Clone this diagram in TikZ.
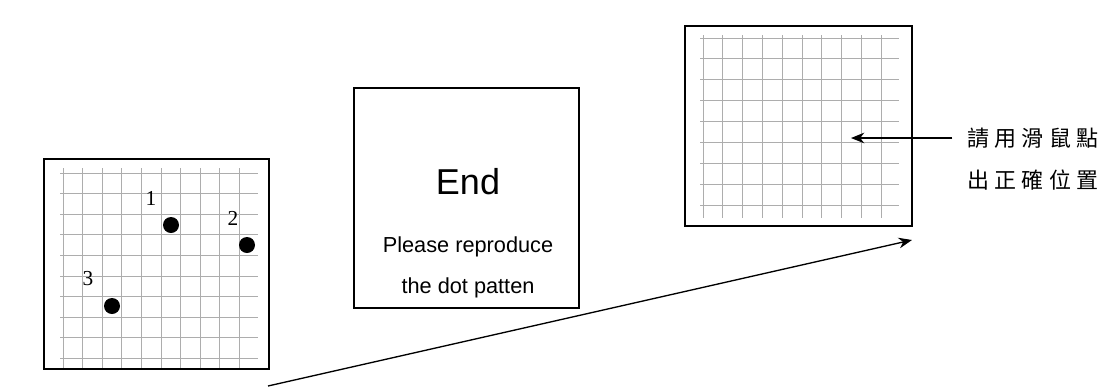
\documentclass[tikz,border=0pt]{standalone}
\usepackage{fontspec}
\setmainfont{Liberation Serif}
\newfontfamily\arialf{Liberation Sans}
\newfontfamily\cjkf[LetterSpace=24]{Noto Sans CJK TC}
\usetikzlibrary{arrows.meta}
\tikzset{
  panel/.style={draw=black, line width=1.4pt, fill=white, inner sep=0pt},
  gridline/.style={draw=black!32, line width=0.65pt},
  dotmark/.style={circle, fill=black, inner sep=0pt, minimum size=12pt},
  numlabel/.style={font=\fontsize{16}{18}\selectfont, inner sep=0pt},
  arr/.style={line width=1pt, -{Stealth[length=10pt,width=8pt]}},
  cjklabel/.style={font=\cjkf\fontsize{16.5}{20}\selectfont, inner sep=0pt, anchor=west}
}
\begin{document}
\begin{tikzpicture}[x=0.75pt,y=-0.75pt]
\useasboundingbox (0,0) rectangle (1108,387);
% left panel
\node[panel, minimum width=168.75pt, minimum height=157.5pt] (left) at (156.5,264) {};
\foreach \k in {0,...,9} {
  \draw[gridline] (63+19.6*\k,168) -- (63+19.6*\k,368);
  \draw[gridline] (60,173+20.6*\k) -- (258,173+20.6*\k);
}
\node[dotmark] (d1) at (171,225) {};
\node[dotmark] (d2) at (247,245) {};
\node[dotmark] (d3) at (112,306) {};
\node[numlabel] (n1) at (151,198) {1};
\node[numlabel] (n2) at (233,218) {2};
\node[numlabel] (n3) at (88,279) {3};
% middle panel
\node[panel, minimum width=168.75pt, minimum height=165pt] (mid) at (466.5,198) {};
\node[font=\arialf\fontsize{27}{30}\selectfont, inner sep=0pt] (endt) at (468,182) {End};
\node[font=\arialf\fontsize{16.3}{19}\selectfont, inner sep=0pt] (p1) at (468,247) {Please reproduce};
\node[font=\arialf\fontsize{16.3}{19}\selectfont, inner sep=0pt] (p2) at (468,288) {the dot patten};
% right panel
\node[panel, minimum width=170.25pt, minimum height=150pt] (right) at (798.5,126) {};
\foreach \k in {0,...,9} {
  \draw[gridline] (703+19.8*\k,35) -- (703+19.8*\k,218);
}
\foreach \k in {0,...,8} {
  \draw[gridline] (700,38+20.9*\k) -- (899,38+20.9*\k);
}
% label and arrow
\node[cjklabel] (lab1) at (967,138) {請用滑鼠點};
\node[cjklabel] (lab2) at (967,180) {出正確位置};
\coordinate (tipA) at (851,138);
\draw[arr] (lab1.west) ++(-11pt,0) -- (tipA);
% long arrow
\coordinate (startB) at (268,386);
\coordinate (tipB) at (912,240);
\draw[arr] (startB) -- (tipB);
\end{tikzpicture}
\end{document}
